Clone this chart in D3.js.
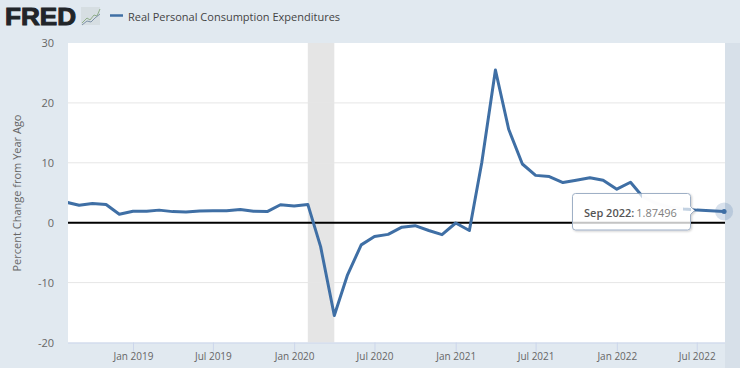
<!DOCTYPE html>
<html>
<head>
<meta charset="utf-8">
<script src="https://cdn.jsdelivr.net/npm/d3@7"></script>
<style>
html, body { margin: 0; padding: 0; background: #e1e9f0; }
svg { display: block; }
text { font-family: "Open Sans", sans-serif; }
</style>
</head>
<body>
<div id="chart"></div>
<script>
// monthly values, Aug 2018 to Sep 2022 (Mar-Jun 2022 sit behind the tooltip, estimated)
var startMonth = "2018-08-01";
var values = [3.45, 2.9, 3.2, 3.05, 1.4,
	1.9, 1.9, 2.1, 1.85, 1.8, 1.95, 2.0, 2.0, 2.2, 1.9, 1.85, 3.0,
	2.8, 3.05, -4.0, -15.5, -8.7, -3.7, -2.3, -1.95, -0.75, -0.5, -1.3, -2.0,
	-0.05, -1.3, 10, 25.5, 15.6, 9.8, 7.9, 7.7, 6.7, 7.1, 7.5, 7.1,
	5.6, 6.75, 4.3, 3.2, 2.6, 2.3, 2.1, 2.0, 1.87496];
var yTicks = [-20, -10, 0, 10, 20, 30];
var xTicks = ["2019-01-01", "2019-07-01", "2020-01-01", "2020-07-01", "2021-01-01", "2021-07-01", "2022-01-01", "2022-07-01"];
var recession = ["2020-02-01", "2020-04-01"];
var seriesName = "Real Personal Consumption Expenditures";
var yTitle = "Percent Change from Year Ago";
var tipDate = "Sep 2022:";
var tipValue = "1.87496";

var width = 740, height = 368;
var plotLeft = 68, plotRight = 725, plotTop = 43, plotBottom = 342.5;
var seriesColor = "#3f6fa5";

var parse = d3.utcParse("%Y-%m-%d");
var months = d3.utcMonth.range(parse(startMonth), d3.utcMonth.offset(parse(startMonth), values.length));

var svg = d3.select("#chart").append("svg")
	.attr("width", width)
	.attr("height", height);

var defs = svg.append("defs");
defs.append("clipPath").attr("id", "plotClip").append("rect")
	.attr("x", plotLeft).attr("y", plotTop)
	.attr("width", width - plotLeft).attr("height", plotBottom - plotTop);
var ghostClip = defs.append("clipPath").attr("id", "ghostClip");
ghostClip.append("rect").attr("x", 636).attr("y", 193).attr("width", 6).attr("height", 7);
ghostClip.append("rect").attr("x", 683).attr("y", 205).attr("width", 8).attr("height", 8);
var shadow = defs.append("filter").attr("id", "tipShadow")
	.attr("x", "-10%").attr("y", "-20%").attr("width", "120%").attr("height", "150%");
shadow.append("feDropShadow").attr("dx", 1).attr("dy", 1).attr("stdDeviation", 1)
	.attr("flood-color", "#000").attr("flood-opacity", 0.2);

var xScale = d3.scaleUtc()
	.domain([parse("2019-01-01"), parse("2021-01-01")])
	.range([133, 455.7]);
var yScale = d3.scaleLinear()
	.domain([-20, 30])
	.range([plotBottom, plotTop]);

// plot area
svg.append("rect")
	.attr("x", plotLeft).attr("y", plotTop)
	.attr("width", plotRight - plotLeft).attr("height", plotBottom - plotTop)
	.attr("fill", "#ffffff");
svg.append("rect")
	.attr("x", plotRight).attr("y", plotTop)
	.attr("width", width - plotRight).attr("height", height - plotTop)
	.attr("fill", "#d7e0e9");

// recession band
svg.append("rect")
	.attr("x", xScale(parse(recession[0])))
	.attr("y", plotTop)
	.attr("width", xScale(parse(recession[1])) - xScale(parse(recession[0])))
	.attr("height", plotBottom - plotTop)
	.attr("fill", "#e5e5e5");

// y axis and gridlines
var yAxis = d3.axisLeft(yScale)
	.tickValues(yTicks)
	.tickFormat(function(d){ return String(d); })
	.tickSize(0)
	.tickPadding(14);
var yG = svg.append("g").attr("transform", "translate(" + plotLeft + ",0)").call(yAxis);
yG.select(".domain").remove();
yG.selectAll("text").attr("fill", "#666666").style("font-size", "11px");

svg.selectAll("line.grid").data(yTicks.filter(function(d){ return d != 0 && d != -20 && d != 30; })).enter()
	.append("line")
	.attr("class", "grid")
	.attr("x1", plotLeft).attr("x2", plotRight)
	.attr("y1", function(d){ return yScale(d); })
	.attr("y2", function(d){ return yScale(d); })
	.attr("stroke", "#e6e6e6")
	.attr("stroke-width", 1);

// x axis
var xAxis = d3.axisBottom(xScale)
	.tickValues(xTicks.map(function(d){ return parse(d); }))
	.tickFormat(d3.utcFormat("%b %Y"))
	.tickSize(9)
	.tickPadding(1);
var xG = svg.append("g").attr("transform", "translate(0," + plotBottom + ")").call(xAxis);
xG.select(".domain").attr("stroke", "#ccd6eb").attr("d", "M" + plotLeft + ",0.5H" + plotRight);
xG.selectAll("line").attr("stroke", "#ccd6eb");
xG.selectAll("text").attr("fill", "#666666").style("font-size", "10px");

// zero line
svg.append("line")
	.attr("x1", plotLeft).attr("x2", plotRight)
	.attr("y1", yScale(0)).attr("y2", yScale(0))
	.attr("stroke", "#000000")
	.attr("stroke-width", 2);

// series
var line = d3.line()
	.x(function(d){ return xScale(d.date); })
	.y(function(d){ return yScale(d.value); });
var points = months.map(function(m, i){ return {date: m, value: values[i]}; });
svg.append("path")
	.datum(points)
	.attr("clip-path", "url(#plotClip)")
	.attr("d", line)
	.attr("fill", "none")
	.attr("stroke", seriesColor)
	.attr("stroke-width", 3)
	.attr("stroke-linejoin", "round");

// hover marker
var last = points[points.length - 1];
svg.append("circle")
	.attr("cx", xScale(last.date)).attr("cy", yScale(last.value))
	.attr("r", 9)
	.attr("fill", seriesColor)
	.attr("opacity", 0.2);
svg.append("circle")
	.attr("cx", xScale(last.date)).attr("cy", yScale(last.value))
	.attr("r", 2.5)
	.attr("fill", seriesColor);

// tooltip
var tip = svg.append("g").attr("transform", "translate(572.5,193.5)");
tip.append("path")
	.attr("d", "M3,0H115a3,3 0 0 1 3,3V13L122,17L118,21V33.5a3,3 0 0 1 -3,3H3a3,3 0 0 1 -3,-3V3a3,3 0 0 1 3,-3Z")
	.attr("fill", "#ffffff")
	.attr("fill-opacity", 0.98)
	.attr("stroke", "#9fb0c6")
	.attr("stroke-width", 1)
	.attr("filter", "url(#tipShadow)");

// what still shows faintly through the tooltip
svg.append("line")
	.attr("x1", 573).attr("x2", 690)
	.attr("y1", yScale(0)).attr("y2", yScale(0))
	.attr("stroke", "#000000")
	.attr("stroke-opacity", 0.22)
	.attr("stroke-width", 2);
svg.append("path")
	.datum(points)
	.attr("clip-path", "url(#ghostClip)")
	.attr("d", line)
	.attr("fill", "none")
	.attr("stroke", seriesColor)
	.attr("stroke-opacity", 0.3)
	.attr("stroke-width", 3);

var tipText = tip.append("text").attr("x", 11.5).attr("y", 23.5).style("font-size", "11px");
tipText.append("tspan").attr("fill", "#555555").attr("font-weight", 600).text(tipDate);
tipText.append("tspan").attr("fill", "#808080").attr("dx", 2).text(tipValue);

// y title
svg.append("text")
	.attr("transform", "translate(21,193) rotate(-90)")
	.attr("text-anchor", "middle")
	.attr("fill", "#666666")
	.style("font-size", "11px")
	.text(yTitle);

// logo
svg.append("text")
	.attr("x", 5).attr("y", 25)
	.attr("textLength", 71)
	.attr("lengthAdjust", "spacingAndGlyphs")
	.attr("fill", "#212529")
	.attr("stroke", "#212529")
	.attr("stroke-width", 1)
	.style("font-family", "'Liberation Sans', sans-serif")
	.style("font-weight", 700)
	.style("font-size", "24px")
	.text("FRED");
var icon = svg.append("g").attr("transform", "translate(81,7)");
icon.append("rect").attr("width", 19).attr("height", 18).attr("fill", "#d6dee2");
icon.append("path").attr("d", "M1,16L6,11L9,13L13,8L16,9L19,2").attr("fill", "none").attr("stroke", "#8fae8a").attr("stroke-width", 1);
icon.append("path").attr("d", "M1,18L6,14L10,15L14,11L19,7").attr("fill", "none").attr("stroke", "#7f93a8").attr("stroke-width", 1);

// legend
svg.append("line")
	.attr("x1", 110).attr("x2", 123)
	.attr("y1", 15.5).attr("y2", 15.5)
	.attr("stroke", seriesColor)
	.attr("stroke-width", 2.5);
svg.append("text")
	.attr("x", 128).attr("y", 20.5)
	.attr("fill", "#444444")
	.style("font-size", "11px")
	.text(seriesName);
</script>
</body>
</html>
